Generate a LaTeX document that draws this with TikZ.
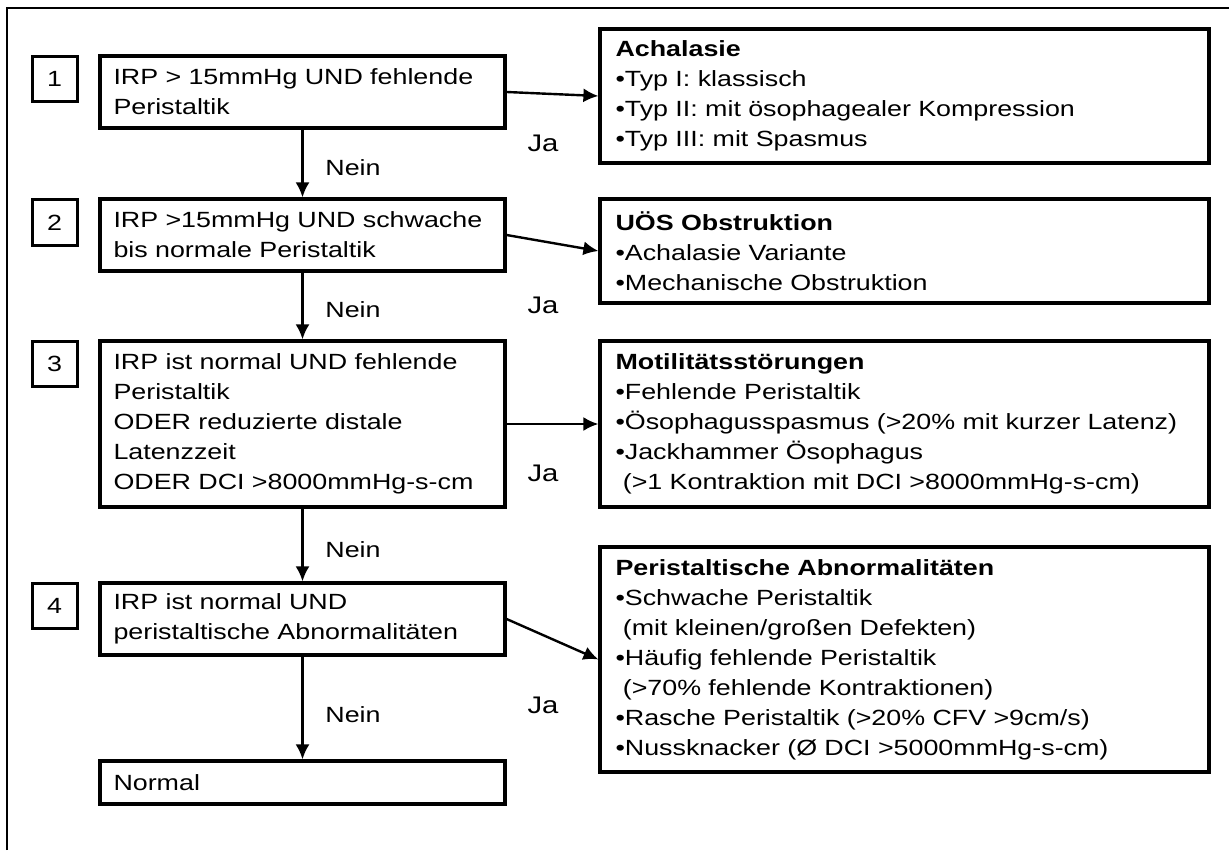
\documentclass[tikz,border=0pt]{standalone}
\usepackage{fontspec}
\setmainfont{Liberation Sans}[FakeStretch=1.22]
\usetikzlibrary{arrows.meta}
\usetikzlibrary{positioning}

\begin{document}
\begin{tikzpicture}[x=0.5pt,y=-0.5pt,
    font=\fontsize{11}{15}\selectfont,
    numbox/.style={draw,line width=1.5pt,minimum width=22.5pt,minimum height=22.5pt,inner sep=0pt},
    condbox/.style={draw,line width=1.6pt,align=left,text width=189pt,inner xsep=6.5pt,inner ysep=0pt,minimum width=202.5pt},
    diagbox/.style={draw,line width=1.6pt,align=left,text width=289pt,inner xsep=7.5pt,inner ysep=0pt,minimum width=304.5pt},
    arr/.style={line width=1.2pt,-{Latex[length=7.5pt,width=7pt]}},
    nein/.style={pos=0.56,right=7.5pt},
    ja/.style={font=\fontsize{12}{14}\selectfont}]
            \useasboundingbox (0,0) rectangle (1229,850);
            \draw[line width=1.1pt] (7,850) -- (7,8) -- (1229,8);

            % step numbers
            \node[numbox] (n1) at (54.5,79) {1};
            \node[numbox] (n2) at (54.5,222.5) {2};
            \node[numbox] (n3) at (54.5,364) {3};
            \node[numbox] (n4) at (54.5,605.5) {4};

            % conditions
            \node[condbox,minimum height=36pt] (cond1) at (302.5,92)
                {IRP > 15mmHg UND fehlende\\Peristaltik};
            \node[condbox,minimum height=36pt] (cond2) at (302.5,235)
                {IRP >15mmHg UND schwache\\bis normale Peristaltik};
            \node[condbox,minimum height=83pt] (cond3) at (302.5,424)
                {IRP ist normal UND fehlende\\Peristaltik\\ODER reduzierte distale\\Latenzzeit\\ODER DCI >8000mmHg-s-cm};
            \node[condbox,minimum height=36pt] (cond4) at (302.5,619)
                {IRP ist normal UND\\peristaltische Abnormalitäten};
            \node[condbox,minimum height=21.5pt] (normal) at (302.5,782.5) {Normal};

            % diagnoses
            \node[diagbox,minimum height=67pt] (achal) at (904.5,96)
                {\textbf{Achalasie}\\•Typ I: klassisch\\•Typ II: mit ösophagealer Kompression\\•Typ III: mit Spasmus};
            \node[diagbox,minimum height=52pt] (uoes) at (904.5,251)
                {\textbf{UÖS Obstruktion}\\•Achalasie Variante\\•Mechanische Obstruktion};
            \node[diagbox,minimum height=83pt] (motil) at (904.5,424)
                {\textbf{Motilitätsstörungen}\\•Fehlende Peristaltik\\•Ösophagusspasmus (>20\% mit kurzer Latenz)\\•Jackhammer Ösophagus\\\ (>1 Kontraktion mit DCI >8000mmHg-s-cm)};
            \node[diagbox,minimum height=112.5pt] (peri) at (904.5,659.5)
                {\textbf{Peristaltische Abnormalitäten}\\•Schwache Peristaltik\\\ (mit kleinen/großen Defekten)\\•Häufig fehlende Peristaltik\\\ (>70\% fehlende Kontraktionen)\\•Rasche Peristaltik (>20\% CFV >9cm/s)\\•Nussknacker (Ø DCI >5000mmHg-s-cm)};

            % Nein branches
            \foreach \a/\b in {cond1/cond2,cond2/cond3,cond3/cond4,cond4/normal}
                \draw[arr] (\a.south) -- node[nein] {Nein} (\b.north);

            % Ja branches
            \draw[arr] (cond1.east) -- (achal.west);
            \draw[arr] (cond2.east) -- (uoes.west);
            \draw[arr] (cond3.east) -- (motil.west);
            \draw[arr] (cond4.east) -- (peri.west);

            \node[ja] (ja1) at (543,143) {Ja};
            \node[ja] (ja2) at (543,305) {Ja};
            \node[ja] (ja3) at (543,473) {Ja};
            \node[ja] (ja4) at (543,705) {Ja};
\end{tikzpicture}
\end{document}
